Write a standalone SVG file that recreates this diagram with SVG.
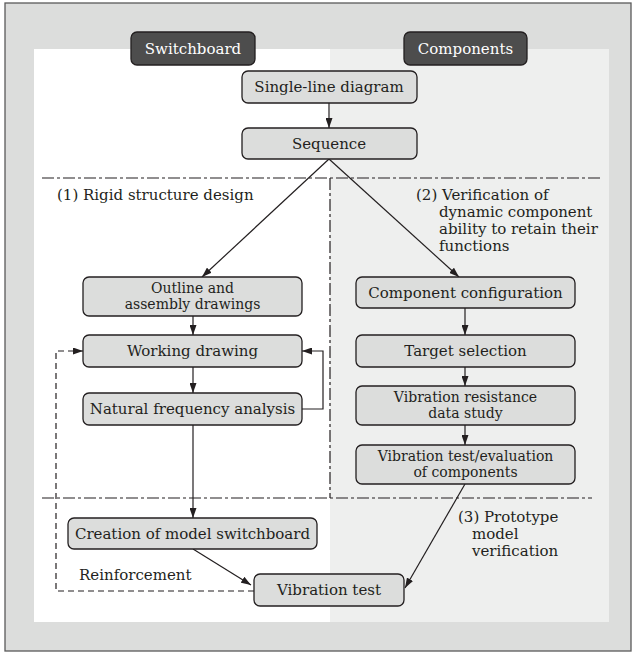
<svg xmlns="http://www.w3.org/2000/svg" width="634" height="654" viewBox="0 0 634 654">
<defs>
<marker id="ah" markerWidth="10" markerHeight="7" refX="10" refY="3.5" orient="auto" markerUnits="userSpaceOnUse"><path d="M0,0 L10,3.5 L0,7 z" fill="#231f20"/></marker>
<style>
text{font-family:"DejaVu Serif","Liberation Serif",serif;font-size:15px;fill:#231f20}
.c{text-anchor:middle}
.t2{font-size:14px}
.box{fill:#dcdddc;stroke:#231f20;stroke-width:1.3}
.hdr{fill:#4d4d4d;stroke:#231f20;stroke-width:1.3}
.hdr-t{fill:#ffffff}
.ln{fill:none;stroke:#231f20;stroke-width:1.2}
.dd{fill:none;stroke:#231f20;stroke-width:1.2;stroke-dasharray:12 3 3 3}
.ds{fill:none;stroke:#231f20;stroke-width:1.2;stroke-dasharray:6 4}
</style>
</defs>
<rect x="5" y="3" width="626" height="648" fill="#dcdddc" stroke="#5a5a5a" stroke-width="1.3"/>
<rect x="34" y="49" width="296" height="573" fill="#ffffff"/>
<rect x="330" y="49" width="279" height="573" fill="#eeefee"/>

<g id="connectors">
<path class="dd" d="M42,178 H600"/>
<path class="dd" d="M42,498 H592"/>
<path class="dd" d="M330,178 V498"/>
<path class="ln" d="M329,103 V128" marker-end="url(#ah)"/>
<path class="ln" d="M329,159 L202,277" marker-end="url(#ah)"/>
<path class="ln" d="M329,159 L459,277" marker-end="url(#ah)"/>
<path class="ln" d="M193,316 V335" marker-end="url(#ah)"/>
<path class="ln" d="M193,367 V393" marker-end="url(#ah)"/>
<path class="ln" d="M302,409 H323 V351 H302" marker-end="url(#ah)"/>
<path class="ln" d="M193,425 V518" marker-end="url(#ah)"/>
<path class="ln" d="M193,549 L251,585" marker-end="url(#ah)"/>
<path class="ln" d="M465,308 V335" marker-end="url(#ah)"/>
<path class="ln" d="M465,367 V386" marker-end="url(#ah)"/>
<path class="ln" d="M465,425 V445" marker-end="url(#ah)"/>
<path class="ln" d="M465,484 L405,588" marker-end="url(#ah)"/>
<path class="ds" d="M254,591 H56 V351 H83" marker-end="url(#ah)"/>
</g>

<g id="switchboard"><rect class="hdr" x="131" y="32" width="124" height="33" rx="6"/><text class="c hdr-t" x="193" y="54">Switchboard</text></g>
<g id="components"><rect class="hdr" x="404" y="32" width="123" height="33" rx="6"/><text class="c hdr-t" x="465.5" y="54">Components</text></g>
<g id="single-line"><rect class="box" x="242" y="71" width="175" height="32" rx="6"/><text class="c" x="329" y="92">Single-line diagram</text></g>
<g id="sequence"><rect class="box" x="242" y="128" width="175" height="31" rx="6"/><text class="c" x="329" y="149">Sequence</text></g>
<g id="label1"><text x="57" y="200">(1) Rigid structure design</text></g>
<g id="label2"><text x="416" y="200">(2) Verification of</text><text x="439" y="217">dynamic component</text><text x="439" y="234">ability to retain their</text><text x="439" y="251">functions</text></g>
<g id="outline"><rect class="box" x="83" y="277" width="219" height="39" rx="6"/><text class="c t2" x="192.5" y="292.5">Outline and</text><text class="c t2" x="192.5" y="309">assembly drawings</text></g>
<g id="component-config"><rect class="box" x="356" y="277" width="219" height="31" rx="6"/><text class="c" x="465.5" y="298">Component configuration</text></g>
<g id="working"><rect class="box" x="83" y="335" width="219" height="32" rx="6"/><text class="c" x="192.5" y="356">Working drawing</text></g>
<g id="target"><rect class="box" x="356" y="335" width="219" height="32" rx="6"/><text class="c" x="465.5" y="356">Target selection</text></g>
<g id="natural"><rect class="box" x="83" y="393" width="219" height="32" rx="6"/><text class="c" x="192.5" y="414">Natural frequency analysis</text></g>
<g id="vib-resist"><rect class="box" x="356" y="386" width="219" height="39" rx="6"/><text class="c t2" x="465.5" y="401.5">Vibration resistance</text><text class="c t2" x="465.5" y="418">data study</text></g>
<g id="vib-eval"><rect class="box" x="356" y="445" width="219" height="39" rx="6"/><text class="c t2" x="465.5" y="460.5">Vibration test/evaluation</text><text class="c t2" x="465.5" y="477">of components</text></g>
<g id="creation"><rect class="box" x="68" y="518" width="249" height="31" rx="6"/><text class="c" x="192.5" y="539">Creation of model switchboard</text></g>
<g id="label3"><text x="458" y="522">(3) Prototype</text><text x="472" y="539">model</text><text x="472" y="556">verification</text></g>
<g id="reinforcement"><text x="79" y="580">Reinforcement</text></g>
<g id="vibration-test"><rect class="box" x="254" y="574" width="150" height="32" rx="6"/><text class="c" x="329" y="595">Vibration test</text></g>
</svg>
